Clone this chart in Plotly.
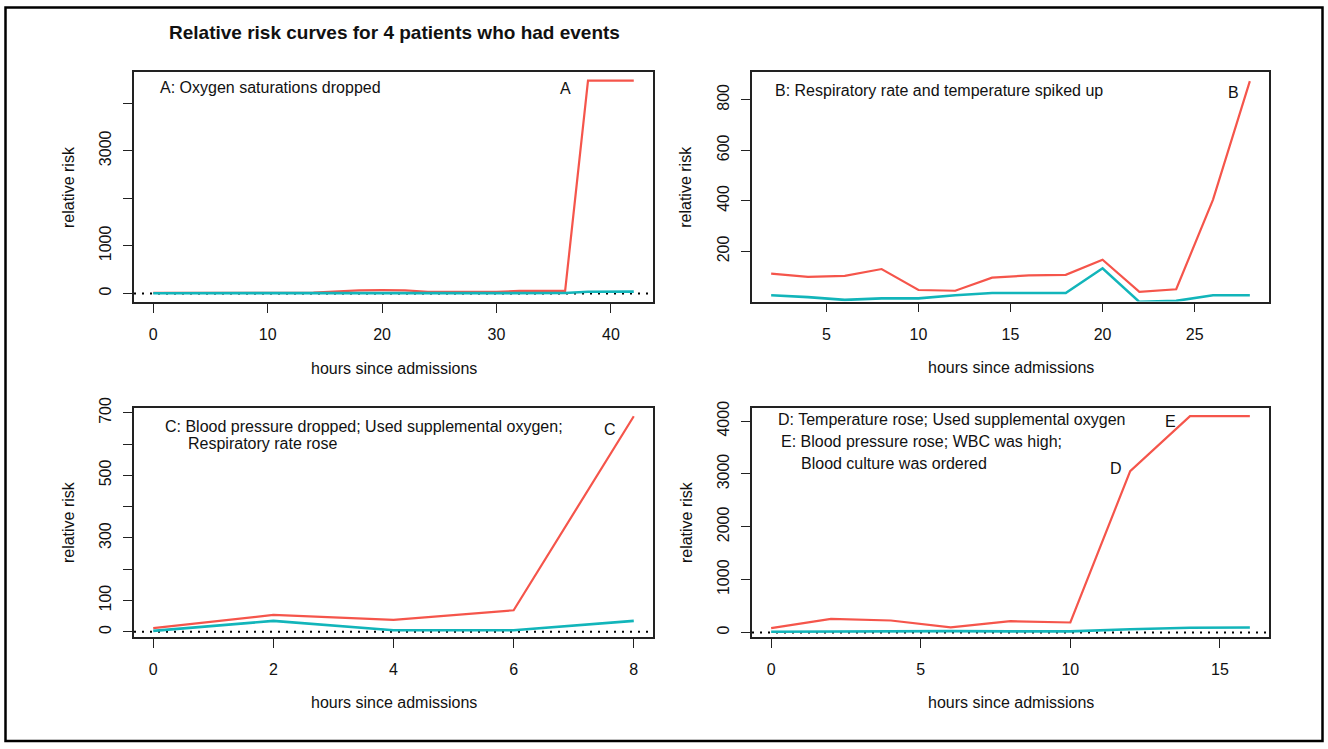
import plotly.graph_objects as go

W, H = 1328, 749

# ---- data ----
hours_a = list(range(0, 43, 2))
red_a = [12, 10, 10, 10, 10, 10, 12, 20, 45, 65, 70, 65, 35, 30, 30, 32, 55, 55, 55, 4475, 4475, 4475]
cyan_a = [5, 5, 5, 5, 5, 5, 5, 5, 5, 5, 5, 5, 5, 5, 5, 5, 5, 5, 8, 35, 38, 38]

hours_b = list(range(2, 29, 2))
red_b = [112, 99, 103, 130, 47, 44, 96, 105, 107, 167, 40, 50, 405, 874]
cyan_b = [26, 19, 8, 14, 14, 26, 35, 35, 35, 133, 0, 4, 26, 26]

hours_c = [0, 2, 4, 6, 8]
red_c = [12, 54, 38, 69, 689]
cyan_c = [3, 35, 5, 5, 35]

hours_d = list(range(0, 17, 2))
red_d = [82, 259, 227, 95, 214, 189, 3054, 4095, 4095]
cyan_d = [15, 20, 30, 25, 20, 20, 60, 90, 95]

title_text = "Relative risk curves for 4 patients who had events"
x_title = "hours since admissions"
y_title = "relative risk"

RED = "#F5554B"
CYAN = "#12B5BA"
FONT = "Liberation Sans, Arial, Helvetica, sans-serif"
FS = 16


def px(x):
    return x / W


def py(y):
    return 1 - y / H


panels = [
    dict(h=hours_a, r=red_a, c=cyan_a, xr=[-1.68, 43.68], yr=[-180, 4655],
         xt=[0, 10, 20, 30, 40], yt=[0, 1000, 2000, 3000, 4000],
         ytt=["0", "1000", "", "3000", ""], box=(134, 653, 72, 302), zero=True),
    dict(h=hours_b, r=red_b, c=cyan_b, xr=[0.96, 29.04], yr=[1.5, 910],
         xt=[5, 10, 15, 20, 25], yt=[200, 400, 600, 800],
         ytt=["200", "400", "600", "800"], box=(752, 1269, 72, 301.5), zero=False),
    dict(h=hours_c, r=red_c, c=cyan_c, xr=[-0.32, 8.32], yr=[-15.5, 717],
         xt=[0, 2, 4, 6, 8], yt=[0, 100, 200, 300, 400, 500, 600, 700],
         ytt=["0", "100", "", "300", "", "500", "", "700"], box=(134, 653, 407.5, 636.7), zero=True),
    dict(h=hours_d, r=red_d, c=cyan_d, xr=[-0.64, 16.64], yr=[-80, 4258],
         xt=[0, 5, 10, 15], yt=[0, 1000, 2000, 3000, 4000],
         ytt=["0", "1000", "2000", "3000", "4000"], box=(752, 1269, 407.5, 636.7), zero=True),
]

fig = go.Figure()
layout = {}
annotations = []

for i, p in enumerate(panels):
    n = "" if i == 0 else str(i + 1)
    xa, ya = "x" + n, "y" + n
    if p["zero"]:
        fig.add_trace(go.Scatter(x=p["xr"], y=[0, 0], xaxis=xa, yaxis=ya, mode="lines",
                                 line=dict(color="black", width=2, dash="2px,6px"),
                                 showlegend=False, hoverinfo="skip"))
    fig.add_trace(go.Scatter(x=p["h"], y=p["r"], xaxis=xa, yaxis=ya, mode="lines",
                             line=dict(color=RED, width=2.2), showlegend=False))
    fig.add_trace(go.Scatter(x=p["h"], y=p["c"], xaxis=xa, yaxis=ya, mode="lines",
                             line=dict(color=CYAN, width=2.6), showlegend=False))
    x0, x1, y0, y1 = p["box"]
    common = dict(showline=True, mirror=True, linecolor="#222", linewidth=1.6,
                  ticks="outside", ticklen=9, tickwidth=1.4, tickcolor="#222",
                  showgrid=False, zeroline=False, fixedrange=True, automargin=False,
                  tickfont=dict(family=FONT, size=FS, color="#111"))
    layout["xaxis" + n] = dict(domain=[px(x0), px(x1)], range=p["xr"], anchor=ya,
                               tickvals=p["xt"], ticklabelstandoff=8, **common)
    layout["yaxis" + n] = dict(domain=[py(y1), py(y0)], range=p["yr"], anchor=xa,
                               tickvals=p["yt"], ticktext=p["ytt"], tickangle=-90,
                               ticklabelstandoff=6, **common)
    # axis titles
    annotations.append(dict(text=x_title, x=px((x0 + x1) / 2), y=py(y1 + 66),
                            xref="paper", yref="paper", showarrow=False,
                            xanchor="center", yanchor="middle",
                            font=dict(family=FONT, size=FS, color="#111")))
    annotations.append(dict(text=y_title, x=px(x0 - 66), y=py((y0 + y1) / 2),
                            xref="paper", yref="paper", showarrow=False, textangle=-90,
                            xanchor="center", yanchor="middle",
                            font=dict(family=FONT, size=FS, color="#111")))

labels = [
    ("A: Oxygen saturations dropped", 157.6, 87, "left"),
    ("A", 565, 89, "center"),
    ("B: Respiratory rate and temperature spiked up", 773, 90.7, "left"),
    ("B", 1233, 92.7, "center"),
    ("C: Blood pressure dropped; Used supplemental oxygen;", 163, 427, "left"),
    ("Respiratory rate rose", 186, 443, "left"),
    ("C", 610, 429, "center"),
    ("D: Temperature rose; Used supplemental oxygen", 776, 420, "left"),
    ("E: Blood pressure rose; WBC was high;", 779, 441.7, "left"),
    ("Blood culture was ordered", 798.7, 463, "left"),
    ("E", 1170, 421, "center"),
    ("D", 1116, 468.7, "center"),
]
for t, x, y, anc in labels:
    annotations.append(dict(text=t, x=px(x), y=py(y), xref="paper", yref="paper",
                            showarrow=False, xanchor=anc, yanchor="middle",
                            font=dict(family=FONT, size=FS, color="#111")))

annotations.append(dict(text="<b>" + title_text + "</b>", x=px(394), y=py(33),
                        xref="paper", yref="paper", showarrow=False,
                        xanchor="center", yanchor="middle",
                        font=dict(family=FONT, size=19, color="#111")))

shapes = [dict(type="rect", xref="paper", yref="paper", x0=px(5.5), x1=px(1322.5),
               y0=py(741), y1=py(7.5), line=dict(color="black", width=2.5))]

fig.update_layout(width=W, height=H,
                  margin=dict(l=0, r=0, t=0, b=0, pad=0, autoexpand=False),
                  paper_bgcolor="white", plot_bgcolor="white",
                  annotations=annotations, shapes=shapes, showlegend=False,
                  font=dict(family=FONT, size=FS, color="#111"), **layout)

fig.write_html(
    "out.html",
    config={"displayModeBar": False},
    post_script="document.documentElement.style.margin='0';"
                "document.body.style.margin='0';document.body.style.overflow='hidden';",
)
